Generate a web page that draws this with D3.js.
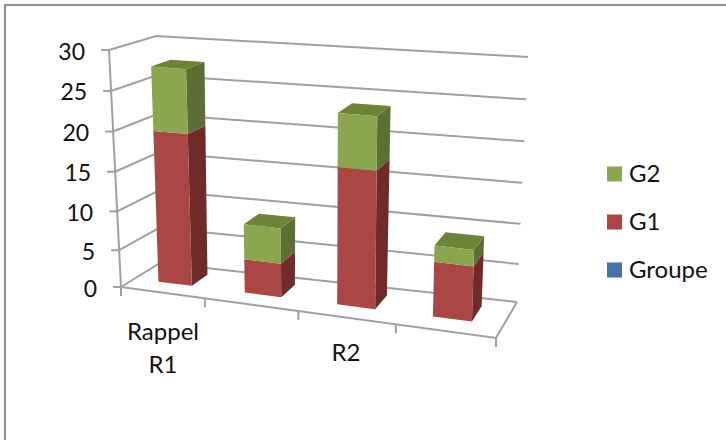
<!DOCTYPE html>
<html>
<head>
<meta charset="utf-8">
<script src="https://cdn.jsdelivr.net/npm/d3@7"></script>
<style>
html,body{margin:0;padding:0;background:#fff}
svg{display:block}
text{font-family:Lato,"Noto Sans",sans-serif;fill:#111}
</style>
</head>
<body>
<svg id="chart" width="726" height="440"></svg>
<script>
// Stacked 3D column chart: two visible series over four categories.
const categories = ["Rappel R1", "b", "R2", "d"];
const categoryLabels = [["Rappel", "R1"], [], ["R2"], []];
const seriesG1 = [19.6, 4.5, 17.3, 7];
const seriesG2 = [8, 4.5, 6.5, 2];
const yTicks = [0, 5, 10, 15, 20, 25, 30];
const legendItems = ["G2", "G1", "Groupe"];
const legendColors = ["#8aa64f", "#aa4643", "#4572a7"];

// Box corners on screen: floor (h = 0) and ceiling (h = 1),
// F/B = front/back, L/R = left/right.
const corners = {
  FL0: [121, 287], FR0: [496, 338], BL0: [160, 263], BR0: [517, 302],
  FL1: [109, 50],  FR1: [504, 83],  BL1: [156, 36],  BR1: [528, 57]
};

const uScale = d3.scalePow().exponent(1.08).domain([0, 1]).range([0, 1]);
const hScale = d3.scalePow().exponent(1.04).domain([0, 30]).range([0, 1]);
const band = d3.scaleBand().domain(categories).range([0, 1])
  .paddingInner(0.6).paddingOuter(0.32);
const barDepth = [0.35, 0.78];

// Trilinear placement of (u along x, v into depth, value up) inside the box.
function project(uRaw, v, value) {
  const u = uScale(uRaw), h = hScale(value);
  return [0, 1].map(i => {
    const lerp = (a, b, t) => a + (b - a) * t;
    const f0 = lerp(corners.FL0[i], corners.FR0[i], u);
    const b0 = lerp(corners.BL0[i], corners.BR0[i], u);
    const f1 = lerp(corners.FL1[i], corners.FR1[i], u);
    const b1 = lerp(corners.BL1[i], corners.BR1[i], u);
    return lerp(lerp(f0, b0, v), lerp(f1, b1, v), h);
  });
}

const svg = d3.select("#chart");
const line = d3.line();
const gridColor = "#a0a0a0";

// Outer frame: left and top edges
svg.append("path")
  .attr("d", "M5,440V5H726")
  .attr("fill", "none").attr("stroke", "#8e8e8e").attr("stroke-width", 2);

// Back wall gridlines, side wall gridlines, ticks and tick labels
const grid = svg.append("g").attr("fill", "none").attr("stroke", gridColor).attr("stroke-width", 2);
yTicks.forEach(t => {
  const a = project(0, 0, t), b = project(0, 1, t), c = project(1, 1, t);
  grid.append("path").attr("d", line([a, b, c]));
  grid.append("path").attr("d", line([[a[0] - 8, a[1]], a]));
  svg.append("text").attr("x", a[0] - 24).attr("y", a[1] + 1.5).attr("dy", "0.35em")
    .attr("text-anchor", "end").attr("font-size", 23).text(t);
});
// Vertical edge at the left of the box
grid.append("path").attr("d", line([project(0, 0, 0), project(0, 0, 30)]));

// Floor outline and front axis ticks
grid.append("path").attr("d", line([project(0, 0, 0), project(1, 0, 0), project(1, 1, 0)]));
d3.range(0, 5).forEach(i => {
  const p = project(i / 4, 0, 0);
  grid.append("path").attr("d", line([p, [p[0], p[1] + 9]]));
});

// Category labels below the floor
const labelX = [163, 0, 346, 0];
const labelY = [[332, 365], [], [353], []];
categoryLabels.forEach((lines, i) => {
  lines.forEach((s, j) => {
    svg.append("text").attr("x", labelX[i]).attr("y", labelY[i][j]).attr("dy", "0.35em")
      .attr("text-anchor", "middle").attr("font-size", 24).text(s);
  });
});

// Columns, drawn as front, side and top faces for each stacked segment
function box(u0, u1, v0, v1, lo, hi, shades, showTop) {
  const P = (u, v, h) => project(u, v, h);
  const poly = (pts, fill) => svg.append("path")
    .attr("d", line(pts) + "Z").attr("fill", fill);
  poly([P(u1, v0, lo), P(u1, v1, lo), P(u1, v1, hi), P(u1, v0, hi)], shades.side);
  if (showTop) poly([P(u0, v0, hi), P(u1, v0, hi), P(u1, v1, hi), P(u0, v1, hi)], shades.top);
  poly([P(u0, v0, lo), P(u1, v0, lo), P(u1, v0, hi), P(u0, v0, hi)], shades.front);
}
const redShades = { front: "#aa4643", side: "#6f2b28", top: "#8a3835" };
const greenShades = { front: "#8aa64f", side: "#5b6e33", top: "#6d8438" };
categories.forEach((c, i) => {
  const u0 = band(c), u1 = u0 + band.bandwidth();
  box(u0, u1, barDepth[0], barDepth[1], 0, seriesG1[i], redShades, false);
  box(u0, u1, barDepth[0], barDepth[1], seriesG1[i], seriesG1[i] + seriesG2[i], greenShades, true);
});

// Legend
const legendY = d3.scalePoint().domain(legendItems).range([174, 270]);
legendItems.forEach((name, i) => {
  svg.append("rect").attr("x", 607).attr("y", legendY(name) - 7.5).attr("width", 15).attr("height", 15)
    .attr("fill", legendColors[i]);
  svg.append("text").attr("x", 629).attr("y", legendY(name)).attr("dy", "0.35em")
    .attr("font-size", 24).text(name);
});
</script>
</body>
</html>
